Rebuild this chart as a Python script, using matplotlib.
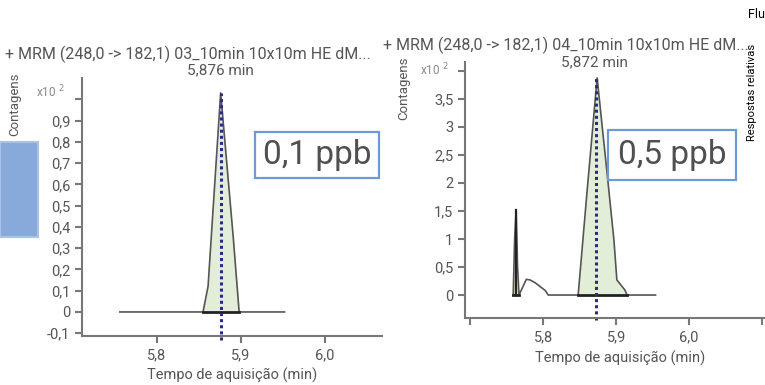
import matplotlib.pyplot as plt
import numpy as np

plt.rcParams['font.family'] = ['Roboto', 'DejaVu Sans']

# chromatogram traces (x in min, y in counts x10^2)
left_time = [5.756, 5.855, 5.861, 5.876, 5.891, 5.898, 5.952]
left_counts = [0, 0, 0.12, 1.03, 0.35, 0, 0]
left_rt = 5.876

right_time = [5.759, 5.761, 5.763, 5.765, 5.767, 5.777, 5.782, 5.789, 5.796, 5.803, 5.807,
              5.848, 5.860, 5.874, 5.889, 5.897, 5.901, 5.912, 5.915, 5.954]
right_counts = [0, 1.0, 1.52, 0.5, 0, 0.28, 0.27, 0.22, 0.15, 0.08, 0,
                0, 1.82, 3.875, 2.0, 0.98, 0.27, 0.09, 0, 0]
right_rt = 5.872

left_yticks = [-0.1, 0, 0.1, 0.2, 0.3, 0.4, 0.5, 0.6, 0.7, 0.8, 0.9, 1.0]
left_ylabels = ['-0,1', '0', '0,1', '0,2', '0,3', '0,4', '0,5', '0,6', '0,7', '0,8', '0,9', '']
right_yticks = [0, 0.5, 1, 1.5, 2, 2.5, 3, 3.5, 4]
right_ylabels = ['0', '0,5', '1', '1,5', '2', '2,5', '3', '3,5', '']
left_xticks = [5.8, 5.9, 6.0]
left_xlabels = ['5,8', '5,9', '6,0']
right_xticks = [5.7, 5.8, 5.9, 6.0, 6.1]
right_xlabels = ['', '5,8', '5,9', '6,0', '']

W, H = 765, 385
fig = plt.figure(figsize=(W / 100, H / 100), dpi=100)

txt = '#555555'
green = '#e3eed9'
yellow = '#e9e0b4'
navy = '#2b2b86'


def px(x0, y0, x1, y1):
    return [x0 / W, 1 - y1 / H, (x1 - x0) / W, (y1 - y0) / H]


def style(ax, xt, xl, yt, yl, pad):
    for s in ['top', 'right']:
        ax.spines[s].set_visible(False)
    for s in ['left', 'bottom']:
        ax.spines[s].set_color('#777777')
        ax.spines[s].set_linewidth(1.5)
    ax.set_xticks(xt)
    ax.set_xticklabels(xl)
    ax.set_yticks(yt)
    ax.set_yticklabels(yl)
    ax.tick_params(colors='#777777', labelcolor=txt, labelsize=10.5, width=1.5, length=5)
    ax.set_xlabel('Tempo de aquisição (min)', fontsize=10.5, color=txt, labelpad=pad)


# left panel
ax1 = fig.add_axes(px(82, 78, 382, 336))
t = np.array(left_time)
c = np.array(left_counts)
ax1.fill_between(t, c, 0, where=(t >= 5.855) & (t <= 5.898), color=green, lw=0)
ax1.plot(t, c, color='#555555', lw=1.2)
ax1.plot([5.855, 5.898], [0, 0], color='#222222', lw=2)
ax1.plot([left_rt, left_rt], [-0.13, 1.03], color=navy, lw=2.2, ls=(0, (1, 1)), clip_on=False)
ax1.set_xlim(5.711, 6.068)
ax1.set_ylim(-0.113, 1.10)
style(ax1, left_xticks, left_xlabels, left_yticks, left_ylabels, 4.5)

# right panel
ax2 = fig.add_axes(px(465, 62, 776, 318))
t = np.array(right_time)
c = np.array(right_counts)
ax2.fill_between(t, c, 0, where=(t >= 5.848) & (t <= 5.915), color=green, lw=0)
ax2.fill_between(t, c, 0, where=(t >= 5.759) & (t <= 5.767), color=yellow, lw=0)
ax2.plot(t, c, color='#555555', lw=1.2)
ax2.plot([right_time[2], right_time[2]], [0, right_counts[2]], color='#222222', lw=1.6)
ax2.plot([5.848, 5.915], [0, 0], color='#222222', lw=2)
ax2.plot([5.759, 5.767], [0, 0], color='#222222', lw=2)
ax2.plot([right_rt, right_rt], [-0.45, 3.875], color=navy, lw=2.2, ls=(0, (1, 1)), clip_on=False)
ax2.set_xlim(5.693, 6.119)
ax2.set_ylim(-0.41, 4.16)
style(ax2, right_xticks, right_xlabels, right_yticks, right_ylabels, 5)

# titles and annotations
fig.text(5 / W, 1 - 54 / H, '+ MRM (248,0 -> 182,1) 03_10min 10x10m HE dM...',
         fontsize=11.5, color=txt, va='center', ha='left')
fig.text(383 / W, 1 - 45 / H, '+ MRM (248,0 -> 182,1) 04_10min 10x10m HE dM...',
         fontsize=11.5, color=txt, va='center', ha='left')
fig.text(220 / W, 1 - 70 / H, '5,876 min', fontsize=11, color=txt, va='center', ha='center')
fig.text(594 / W, 1 - 62 / H, '5,872 min', fontsize=11, color=txt, va='center', ha='center')

fig.text(15 / W, 1 - 104 / H, 'Contagens', fontsize=9.5, color=txt, rotation=90,
         va='center', ha='center')
fig.text(404 / W, 1 - 88 / H, 'Contagens', fontsize=9.5, color=txt, rotation=90,
         va='center', ha='center')
fig.text(36 / W, 1 - 92 / H, r'x10 $^{2}$', fontsize=8.5, color='#888888', va='center', ha='left')
fig.text(420 / W, 1 - 70 / H, r'x10 $^{2}$', fontsize=8.5, color='#888888', va='center', ha='left')

fig.text(317 / W, 1 - 155 / H, '0,1 ppb', fontsize=24, color='#505050', va='center', ha='center',
         bbox=dict(boxstyle='square,pad=0.22', fc='white', ec='#6d9bd1', lw=1.6))
fig.text(672 / W, 1 - 155 / H, '0,5 ppb', fontsize=24, color='#505050', va='center', ha='center',
         bbox=dict(boxstyle='square,pad=0.28', fc='white', ec='#6d9bd1', lw=1.6))

# partial panel edges
fig.patches.append(plt.Rectangle((0, 1 - 237 / H), 38 / W, 95 / H, transform=fig.transFigure,
                                 fc='#88aadb', ec='#a9c3e6', lw=1.5))
fig.text(748 / W, 1 - 15 / H, 'Flu', fontsize=9, color='black', va='center', ha='left')
fig.text(752 / W, 1 - 92 / H, 'Respostas relativas', fontsize=8, color='black', rotation=90,
         va='center', ha='center')

fig.savefig('out.png', dpi=100)
